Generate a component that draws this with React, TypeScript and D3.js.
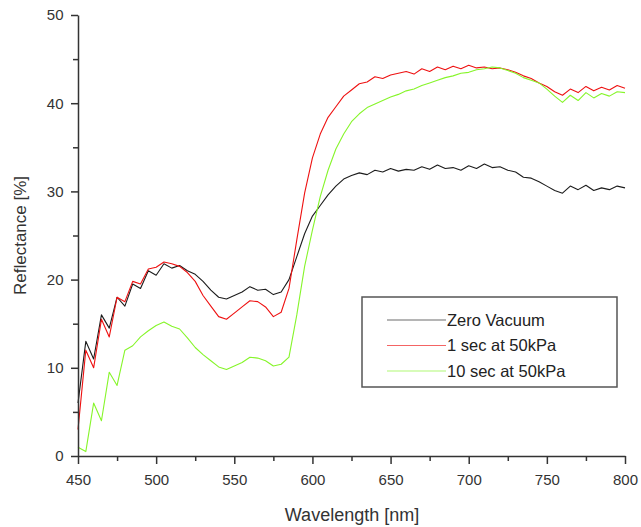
import * as React from 'react'
import * as d3 from 'd3'

const wavelengths: number[] = d3.range(450, 801, 5)

const zeroVacuum: number[] = [
  6, 13, 11, 16, 14.5, 18, 17, 19.5, 19, 21, 20.5, 21.8, 21.3, 21.6, 21, 20.6,
  19.8, 18.8, 18, 17.8, 18.2, 18.6, 19.2, 18.8, 18.9, 18.3, 18.6, 20, 22.6, 25.2,
  27.2, 28.4, 29.6, 30.6, 31.4, 31.8, 32.1, 31.9, 32.4, 32.2, 32.6, 32.3, 32.5,
  32.4, 32.8, 32.5, 33, 32.6, 32.7, 32.4, 32.9, 32.6, 33.1, 32.7, 32.8, 32.4,
  32.2, 31.6, 31.5, 31.1, 30.6, 30.1, 29.8, 30.6, 30.2, 30.7, 30.1, 30.4, 30.2,
  30.6, 30.4
]

const oneSec: number[] = [
  3, 12, 10, 15.5, 13.5, 18, 17.5, 19.8, 19.5, 21.2, 21.4, 22, 21.8, 21.5, 20.8,
  19.8, 18.2, 17, 15.8, 15.5, 16.2, 16.9, 17.6, 17.5, 16.9, 15.8, 16.3, 19, 24.5,
  29.8, 33.8, 36.5, 38.4, 39.6, 40.8, 41.5, 42.2, 42.4, 43, 42.8, 43.2, 43.4,
  43.6, 43.3, 43.9, 43.6, 44.1, 43.8, 44.2, 43.9, 44.3, 44, 44.1, 43.9, 44, 43.8,
  43.5, 43.1, 42.8, 42.3, 41.9, 41.3, 40.9, 41.6, 41.2, 41.9, 41.4, 41.8, 41.5,
  42, 41.7
]

const tenSec: number[] = [
  1, 0.5, 6, 4, 9.5, 8, 12, 12.5, 13.5, 14.2, 14.8, 15.2, 14.7, 14.4, 13.4, 12.3,
  11.5, 10.8, 10.1, 9.8, 10.2, 10.6, 11.2, 11.1, 10.8, 10.2, 10.4, 11.2, 16, 21.5,
  25.6, 29.4, 32.4, 34.8, 36.5, 37.9, 38.8, 39.5, 39.9, 40.3, 40.7, 41, 41.4,
  41.6, 42, 42.3, 42.6, 42.9, 43.1, 43.4, 43.5, 43.8, 43.9, 44.1, 44, 43.7, 43.4,
  42.9, 42.6, 42.3, 41.6, 40.8, 40.1, 40.9, 40.3, 41.2, 40.6, 41.1, 40.8, 41.3,
  41.2
]

const seriesNames: string[] = ['Zero Vacuum', '1 sec at 50kPa', '10 sec at 50kPa']
const seriesColors: string[] = ['#1c1c1c', '#ee1111', '#86f52a']
const xTicks: number[] = [450, 500, 550, 600, 650, 700, 750, 800]
const yTicks: number[] = [0, 10, 20, 30, 40, 50]

export default function App() {
  const ref = React.useRef<SVGSVGElement>(null)

  React.useEffect(() => {
    const width = 641
    const height = 527
    const margin = { top: 15, right: 16, bottom: 71, left: 78 }
    const font = '"Liberation Sans", Arial, sans-serif'
    const textColor = '#333'

    const x = d3.scaleLinear().domain([450, 800])
      .range([margin.left, width - margin.right])
    const y = d3.scaleLinear().domain([0, 50])
      .range([height - margin.bottom, margin.top])

    const svg = d3.select(ref.current)
    svg.selectAll('*').remove()

    svg.append('rect')
      .attr('width', width).attr('height', height).attr('fill', '#fff')

    const allSeries = [zeroVacuum, oneSec, tenSec]
    const line = d3.line<number>()
      .x((d, i) => x(wavelengths[i]))
      .y(d => y(d))

    allSeries.forEach((values, i) => {
      svg.append('path')
        .datum(values)
        .attr('fill', 'none')
        .attr('stroke', seriesColors[i])
        .attr('stroke-width', 1.1)
        .attr('stroke-linejoin', 'round')
        .attr('d', line)
    })

    // x axis
    const xAxis = svg.append('g')
      .attr('transform', `translate(0, ${y(0)})`)
      .call(d3.axisBottom(x).tickValues(xTicks).tickSize(8).tickSizeOuter(0))
    xAxis.append('g')
      .call(d3.axisBottom(x).tickValues(d3.range(475, 800, 50)).tickSize(5).tickFormat(() => ''))
      .select('.domain').remove()

    // y axis
    const yAxis = svg.append('g')
      .attr('transform', `translate(${x(450)}, 0)`)
      .call(d3.axisLeft(y).tickValues(yTicks).tickSize(7).tickSizeOuter(0))
    yAxis.append('g')
      .call(d3.axisLeft(y).tickValues(d3.range(5, 50, 10)).tickSize(5).tickFormat(() => ''))
      .select('.domain').remove()

    svg.selectAll('.domain, .tick line')
      .attr('stroke', textColor)
      .attr('stroke-width', 1.5)
    svg.selectAll('.tick text')
      .attr('fill', textColor)
      .attr('font-family', font)
      .attr('font-size', 15)
    xAxis.selectAll('.tick text').attr('dy', '1.2em')
    yAxis.selectAll('.tick text').attr('dx', '-0.3em')

    svg.append('text')
      .attr('x', 352).attr('y', 521)
      .attr('text-anchor', 'middle')
      .attr('font-family', font).attr('font-size', 18)
      .attr('fill', textColor)
      .text('Wavelength [nm]')

    svg.append('text')
      .attr('transform', `translate(26, ${(y(0) + y(50)) / 2}) rotate(-90)`)
      .attr('text-anchor', 'middle')
      .attr('font-family', font).attr('font-size', 17)
      .attr('fill', textColor)
      .text('Reflectance [%]')

    // legend
    const legend = svg.append('g').attr('transform', 'translate(362, 297)')
    legend.append('rect')
      .attr('width', 255).attr('height', 90)
      .attr('fill', '#fff')
      .attr('stroke', '#555').attr('stroke-width', 1.5)
    seriesNames.forEach((name, i) => {
      const ly = 23 + i * 25.5
      legend.append('line')
        .attr('x1', 25).attr('x2', 84)
        .attr('y1', ly).attr('y2', ly)
        .attr('stroke', seriesColors[i])
        .attr('stroke-opacity', 0.65)
        .attr('stroke-width', 1)
      legend.append('text')
        .attr('x', 85).attr('y', ly)
        .attr('dy', '0.36em')
        .attr('font-family', font).attr('font-size', 16.5)
        .attr('fill', '#222')
        .text(name)
    })
  }, [])

  return (
    <svg ref={ref} width={641} height={527}
      style={{ position: 'absolute', left: 0, top: 0 }} />
  )
}
